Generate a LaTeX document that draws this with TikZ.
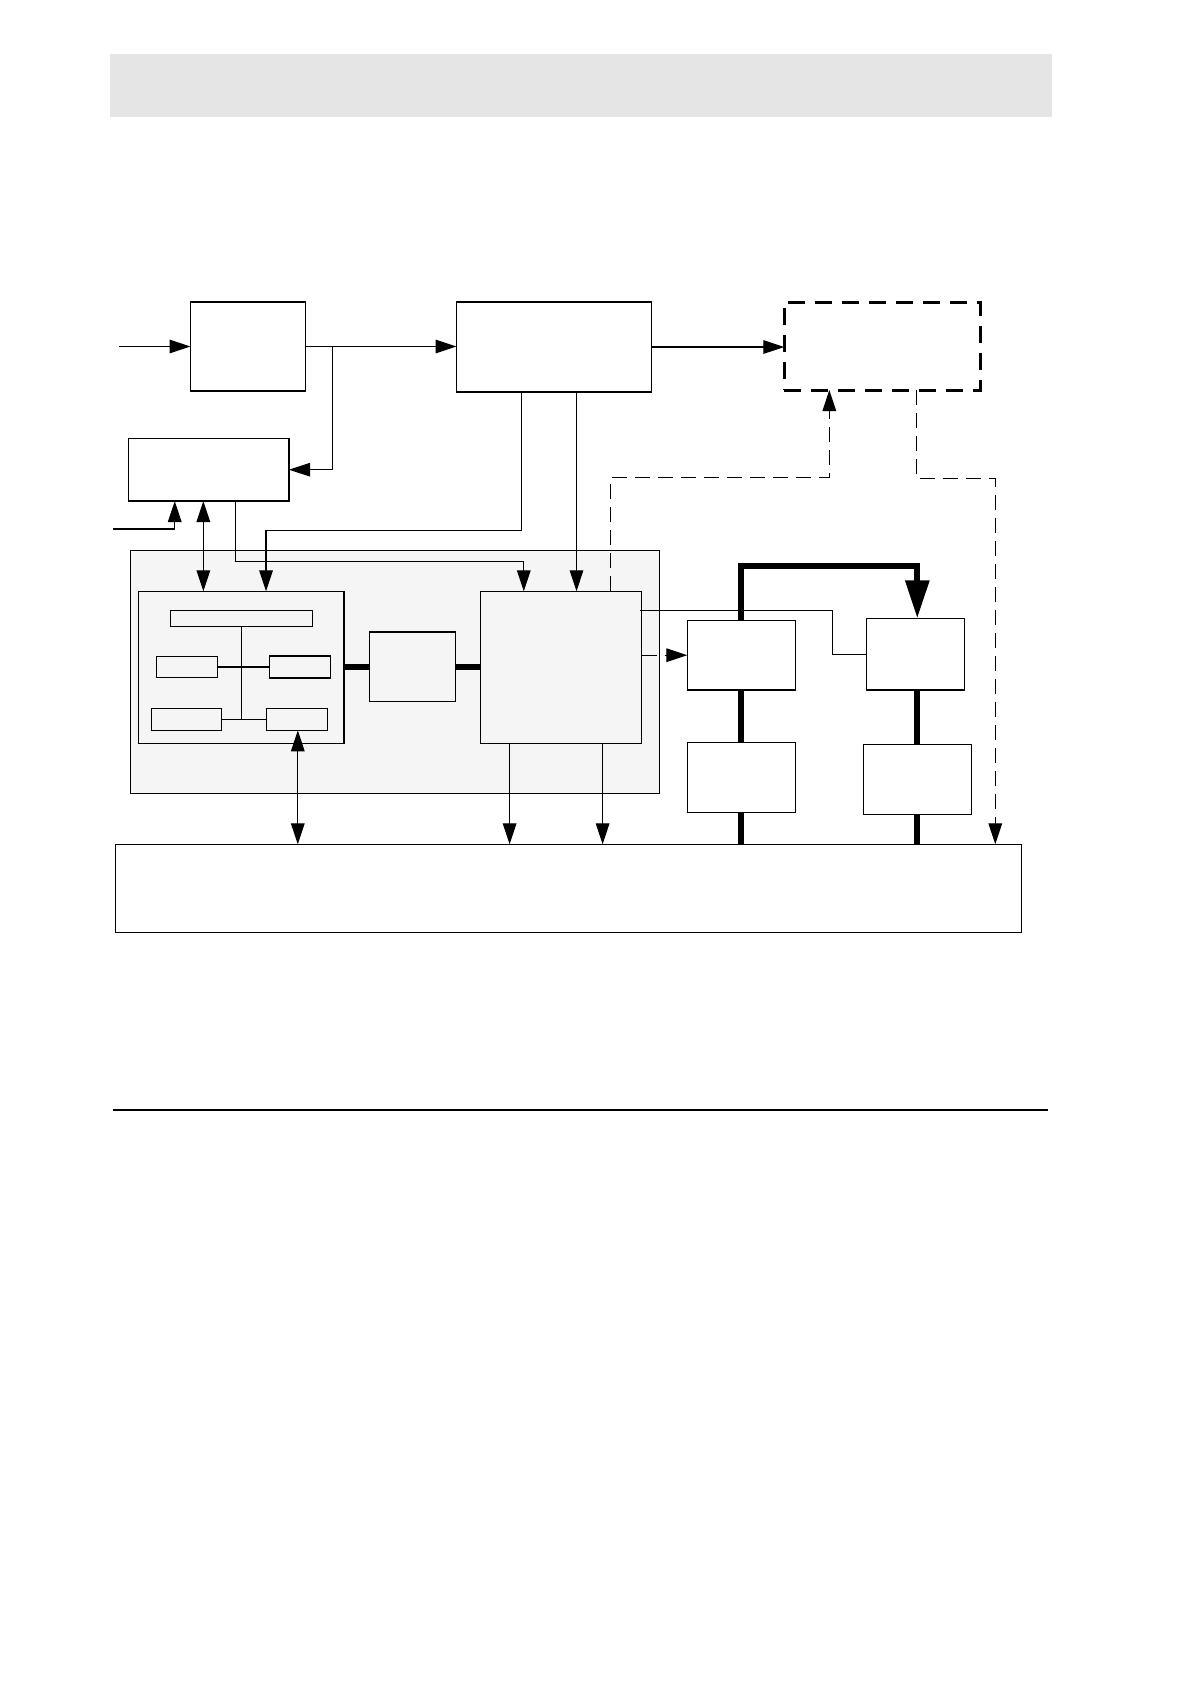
\documentclass[tikz,border=0pt]{standalone}
\usepackage{xcolor}
\usepackage{tikz}
\usetikzlibrary{arrows.meta, calc}
\usetikzlibrary{positioning}
\newcommand{\headColor}{black!10}
\newcommand{\panelColor}{black!4}
\tikzset{
    blk/.style = {draw, rectangle, inner sep=0pt, outer sep=0pt},
    sz/.style 2 args = {minimum width=#1*0.5bp, minimum height=#2*0.5bp},
    panel/.style = {blk, fill=\panelColor},
    arr/.style = {-{Triangle[length=10.5bp,width=6.8bp]}},
    darr/.style = {{Triangle[length=10.5bp,width=6.8bp]}-{Triangle[length=10.5bp,width=6.8bp]}},
    dsh/.style = {dash pattern=on 7.5bp off 4bp},
    bus/.style = {line width=3bp},
    busarr/.style = {bus, -{Triangle[length=19bp,width=11.5bp]}}
}
\begin{document}
\begin{tikzpicture}[x=0.5bp, y=-0.5bp, line width=0.6bp]
            \useasboundingbox (0,0) rectangle (1190,1684);

            % header band and rule
            \fill[\headColor] (110,54) rectangle (1052,117);
            \draw[line width=1bp] (113,1110) -- (1048,1110);

            \coordinate (in1) at (119,346.5);
            \coordinate (in2) at (113.3,529);

            % top row
            \node[blk, sz={115}{89}] (A) at (248,346.5) {};
            \node[blk, sz={195}{90}] (B) at (554,347) {};
            \node[blk, sz={196}{88}, line width=1.5bp, dash pattern=on 8.5bp off 5bp] (H) at (882.3,346) {};
            \node[blk, sz={160.5}{62.7}] (C) at (208.8,469.7) {};

            % grey panel
            \node[panel, sz={529}{243}] (P) at (395,671.8) {};
            \node[panel, sz={205.5}{152}] (D) at (241.3,667.3) {};
            \node[blk, sz={142}{16}] (bar) at (241.5,618.3) {};
            \node[blk, sz={61}{21}] (s1) at (186.8,667) {};
            \node[blk, sz={61}{22}] (s2) at (300,667) {};
            \node[blk, sz={70}{22}] (s3) at (186.3,719.3) {};
            \node[blk, sz={61}{22}] (s4) at (296.9,719.3) {};
            \node[panel, sz={86}{69.3}] (E) at (412.5,666.7) {};
            \node[panel, sz={161}{152}] (F) at (561,667.3) {};

            % right column
            \node[blk, sz={108}{69.7}] (G) at (741.3,655.2) {};
            \node[blk, sz={98}{71.7}] (I) at (915.3,654.2) {};
            \node[blk, sz={108}{70}] (J) at (741.3,777.3) {};
            \node[blk, sz={108}{70}] (K) at (917.3,779.3) {};

            % bottom
            \node[blk, sz={906.4}{88}] (L) at (568.5,888.3) {};

            \draw[arr] (in1) -- (A.west);
            \draw[arr] (A.east) -- (A.east -| B.west);
            \draw[arr] ($(A.east)+(26.8,0)$) |- (C.east);
            \draw[arr] (B.east) -- (B.east -| H.west);
            \draw[arr] (in2) -| ($(C.south west)+(46.2,0)$);
            \draw[darr] ($(C.south west)+(74.8,0)$) coordinate (cd) -- (cd |- D.north);
            \draw[arr] ($(C.south west)+(106.8,0)$) |- ($(F.north west)+(43.3,-29.6)$) -- ($(F.north west)+(43.3,0)$);
            \draw[arr] ($(B.south west)+(65,0)$) |- ($(D.north west)+(127.5,-61)$) -- ($(D.north west)+(127.5,0)$);
            \draw[arr] ($(B.south west)+(120,0)$) coordinate (bf) -- (bf |- F.north);

            \draw[arr, dsh] ($(F.north west)+(130.1,0)$) |- ($(H.south west)+(45,87.6)$) -- ($(H.south west)+(45,0)$);
            \draw[arr, dsh] ($(H.south west)+(132,0)$) |- ($(L.north west)+(880,-366)$) -- ($(L.north west)+(880,0)$);

            \draw (bar.south) -- (bar.south |- s3.east);
            \draw (s1.east) -- (s1.east -| s2.west);
            \draw (s3.east) -- (s3.east -| s4.west);

            \draw[darr] ($(s4.south west)+(31.4,0)$) coordinate (sl) -- (sl |- L.north);
            \draw[arr] ($(F.south west)+(29.1,0)$) coordinate (f1) -- (f1 |- L.north);
            \draw[arr] ($(F.south west)+(122.1,0)$) coordinate (f2) -- (f2 |- L.north);

            \draw[bus] (D.east) -- (D.east -| E.west);
            \draw[bus] (E.east) -- (E.east -| F.west);

            \draw ($(F.north east)+(-1.4,19)$) -| ($(I.west)+(-34,0)$) -- (I.west);
            \draw[arr, dsh] (G.west -| F.east) -- (G.west);

            \draw[busarr] (G.north) |- ($(I.north)+(2,-52.3)$) -- ($(I.north)+(2,0)$);
            \draw[bus] (G.south) -- (J.north);
            \draw[bus] (K.north |- I.south) -- (K.north);
            \draw[bus] (J.south) -- (J.south |- L.north);
            \draw[bus] (K.south) -- (K.south |- L.north);

        \end{tikzpicture}
\end{document}
